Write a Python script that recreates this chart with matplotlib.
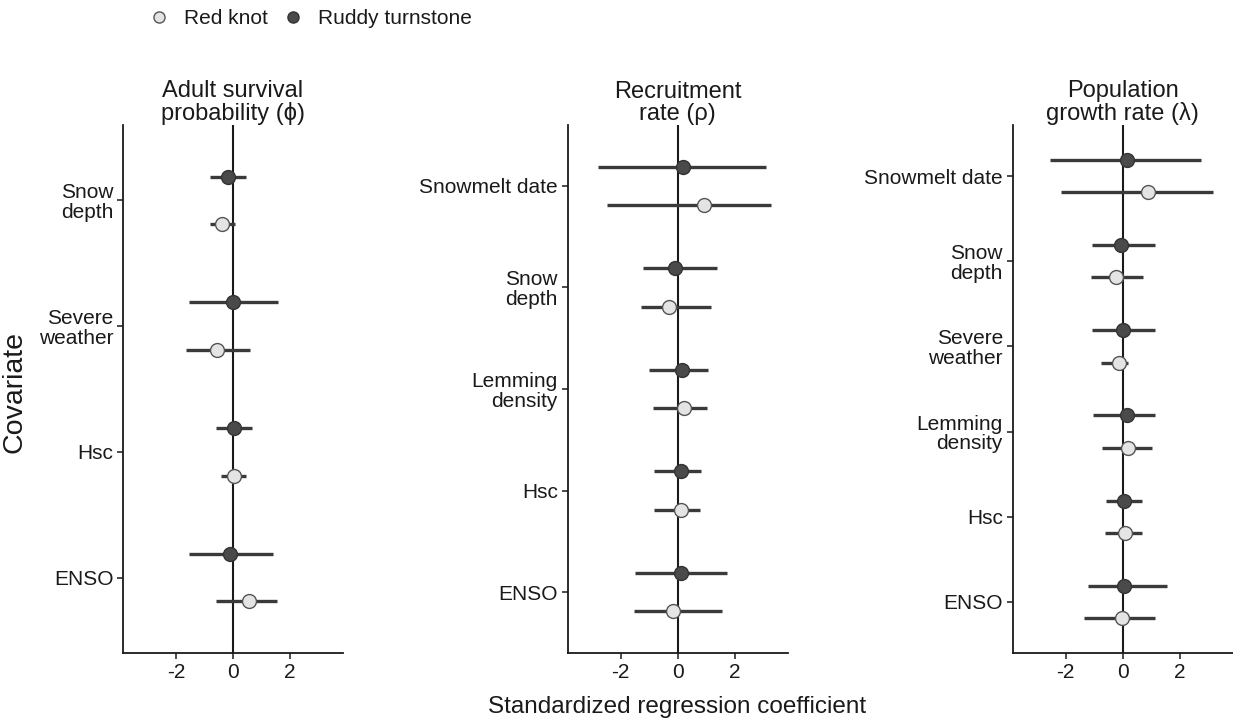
import matplotlib
matplotlib.use("Agg")
import matplotlib.pyplot as plt
from matplotlib.lines import Line2D
import numpy as np

plt.rcParams['font.family'] = ['Liberation Sans', 'DejaVu Sans']

# covariates per panel (bottom to top)
cov_surv = ['ENSO', 'Hsc', 'Severe\nweather', 'Snow\ndepth']
cov_recr = ['ENSO', 'Hsc', 'Lemming\ndensity', 'Snow\ndepth', 'Snowmelt date']
cov_grow = ['ENSO', 'Hsc', 'Lemming\ndensity', 'Severe\nweather', 'Snow\ndepth', 'Snowmelt date']

# Ruddy turnstone: estimate, lower, upper
rt_surv = [-0.12, 0.05, 0.01, -0.19]
rt_surv_lo = [-1.53, -0.60, -1.54, -0.80]
rt_surv_hi = [1.39, 0.68, 1.59, 0.46]
rt_recr = [0.13, 0.13, 0.15, -0.10, 0.19]
rt_recr_lo = [-1.48, -0.84, -1.00, -1.23, -2.81]
rt_recr_hi = [1.72, 0.82, 1.05, 1.38, 3.09]
rt_grow = [0.05, 0.06, 0.14, 0.02, -0.07, 0.14]
rt_grow_lo = [-1.23, -0.60, -1.05, -1.07, -1.07, -2.55]
rt_grow_hi = [1.57, 0.67, 1.13, 1.13, 1.13, 2.75]

# Red knot: estimate, lower, upper
rk_surv = [0.56, 0.02, -0.57, -0.37]
rk_surv_lo = [-0.60, -0.42, -1.65, -0.80]
rk_surv_hi = [1.54, 0.47, 0.58, 0.08]
rk_recr = [-0.18, 0.12, 0.21, -0.32, 0.91]
rk_recr_lo = [-1.54, -0.82, -0.88, -1.28, -2.48]
rk_recr_hi = [1.56, 0.77, 1.03, 1.17, 3.29]
rk_grow = [-0.02, 0.08, 0.20, -0.12, -0.24, 0.90]
rk_grow_lo = [-1.35, -0.62, -0.72, -0.77, -1.11, -2.18]
rk_grow_hi = [1.13, 0.67, 1.04, 0.19, 0.70, 3.18]

titles = ['Adult survival\nprobability (\u03d5)', 'Recruitment\nrate (\u03c1)',
          'Population\ngrowth rate (\u03bb)']

panels = [
    (cov_surv, rt_surv, rt_surv_lo, rt_surv_hi, rk_surv, rk_surv_lo, rk_surv_hi),
    (cov_recr, rt_recr, rt_recr_lo, rt_recr_hi, rk_recr, rk_recr_lo, rk_recr_hi),
    (cov_grow, rt_grow, rt_grow_lo, rt_grow_hi, rk_grow, rk_grow_lo, rk_grow_hi),
]

ink = '#1a1a1a'
bar_col = '#3a3a3a'
dark = '#4a4a4a'
light = '#e4e4e4'
dodge = 0.19

fig = plt.figure(figsize=(12.33, 7.23), dpi=100)
lefts = [0.0998, 0.4604, 0.8213]

for i, (cov, rt, rtlo, rthi, rk, rklo, rkhi) in enumerate(panels):
    ax = fig.add_axes([lefts[i], 0.0968, 0.1784, 0.7303])
    y = np.arange(1, len(cov) + 1)
    rt = np.array(rt); rk = np.array(rk)
    ax.axvline(0, color=ink, lw=1.5, zorder=1)
    ax.errorbar(rt, y + dodge, xerr=[rt - np.array(rtlo), np.array(rthi) - rt],
                fmt='o', color=bar_col, elinewidth=2.4, capsize=0,
                ms=10, mfc=dark, mec='#333333', mew=1, zorder=3)
    ax.errorbar(rk, y - dodge, xerr=[rk - np.array(rklo), np.array(rkhi) - rk],
                fmt='o', color=bar_col, elinewidth=2.4, capsize=0,
                ms=10, mfc=light, mec='#555555', mew=1, zorder=3)
    ax.set_xlim(-3.86, 3.86)
    ax.set_ylim(0.4, len(cov) + 0.6)
    ax.set_xticks([-2, 0, 2])
    ax.set_xticklabels(['-2', '0', '2'])
    ax.set_yticks(y)
    ax.set_yticklabels(cov, linespacing=1.05)
    ax.tick_params(labelsize=15, colors=ink, length=4, width=1.1, pad=3)
    for s in ['top', 'right']:
        ax.spines[s].set_visible(False)
    for s in ['left', 'bottom']:
        ax.spines[s].set_color(ink)
        ax.spines[s].set_linewidth(1.3)
    ax.set_title(titles[i], fontsize=17, color=ink, pad=3, linespacing=1.0)

fig.text(0.012, 0.458, 'Covariate', rotation=90, ha='center', va='center',
         fontsize=20.5, color=ink)
fig.text(0.549, 0.022, 'Standardized regression coefficient', ha='center',
         va='center', fontsize=17.5, color=ink)

handles = [
    Line2D([], [], ls='none', marker='o', ms=8, mfc=light, mec='#555555', mew=1),
    Line2D([], [], ls='none', marker='o', ms=8, mfc=dark, mec='#333333', mew=1),
]
fig.legend(handles, ['Red knot', 'Ruddy turnstone'], loc='center left',
           bbox_to_anchor=(0.104, 0.974), ncol=2, frameon=False, fontsize=15,
           handletextpad=0.6, columnspacing=0.6, handlelength=1.2,
           labelcolor=ink)

fig.savefig('out.png', dpi=100)
